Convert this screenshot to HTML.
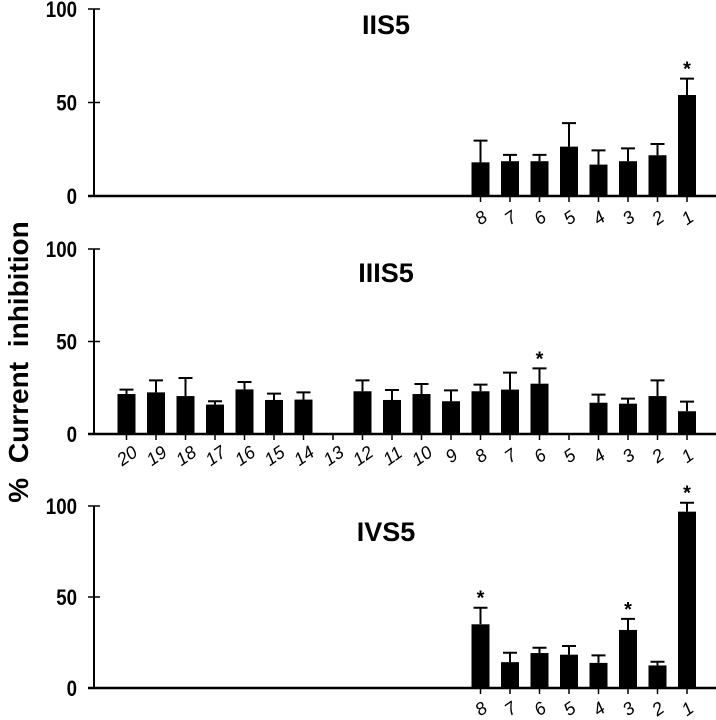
<!DOCTYPE html>
<html><head><meta charset="utf-8"><style>
html,body{margin:0;padding:0;background:#fff;}
svg{display:block;font-family:"Liberation Sans",Arial,sans-serif;}
</style></head><body>
<svg id="chart" width="716" height="720" viewBox="0 0 716 720" xmlns="http://www.w3.org/2000/svg">
<text transform="translate(28,362) rotate(-90)" text-anchor="middle" font-size="28" font-weight="bold" word-spacing="7">% Current inhibition</text>
</svg>
<script>
const panelNames = ["IIS5","IIIS5","IVS5"];
const cats1 = [8,7,6,5,4,3,2,1];
const vals1 = [18,18.6,18.6,26.4,16.8,18.6,21.8,54];
const errs1 = [29.6,22,22,39,24.4,25.5,27.8,62.8];
const stars1 = [1];
const cats2 = [20,19,18,17,16,15,14,12,11,10,9,8,7,6,4,3,2,1];
const vals2 = [21.6,22.5,20.5,15.9,24.1,18.4,18.6,23.1,18.4,21.6,17.7,23.1,24,27.2,16.9,16.4,20.5,12.3];
const errs2 = [24,29,30.3,17.7,28.1,21.8,22.5,29,23.8,27,23.6,26.7,33.2,35.5,21.3,19.1,29,17.5];
const stars2 = [6];
const cats3 = [8,7,6,5,4,3,2,1];
const vals3 = [35,14.2,19.2,18.3,13.8,31.9,12.4,96.9];
const errs3 = [44.1,19.4,22.1,23.1,17.9,38,14.4,101.8];
const stars3 = [8,3,1];
const tickLabels1 = [1,2,3,4,5,6,7,8];
const tickLabels2 = [1,2,3,4,5,6,7,8,9,10,11,12,13,14,15,16,17,18,19,20];
const yTicks = [0,50,100];

const svg = document.getElementById('chart');
const NS = "http://www.w3.org/2000/svg";
function mk(tag, attrs){const e=document.createElementNS(NS,tag);for(const k in attrs)e.setAttribute(k,attrs[k]);svg.appendChild(e);return e;}
const axisX = 94;
function xPos(c){return 687 - (c-1)*29.5;}
const panels = [
 {name:panelNames[0], y0:196, y100:9, cats:cats1, vals:vals1, errs:errs1, stars:stars1, ticks:tickLabels1, labelY:224, titleY:34},
 {name:panelNames[1], y0:434, y100:249, cats:cats2, vals:vals2, errs:errs2, stars:stars2, ticks:tickLabels2, labelY:462, titleY:282},
 {name:panelNames[2], y0:688, y100:506, cats:cats3, vals:vals3, errs:errs3, stars:stars3, ticks:tickLabels1, labelY:715, titleY:541}
];
panels.forEach((p,pi)=>{
  const yS = v => p.y0 - v*(p.y0-p.y100)/100;
  let t = mk('text',{x:386,y:p.titleY,'text-anchor':'middle','font-size':27,'font-weight':'bold'});
  t.textContent = p.name;
  
  
  let ya = mk('line',{x1:axisX,y1:p.y100,x2:axisX,y2:p.y0,stroke:'#000','stroke-width':2});
  
  
  let xa = mk('line',{x1:axisX-6,y1:p.y0,x2:716,y2:p.y0,stroke:'#000','stroke-width':2.5});
  
  
  yTicks.forEach(v=>{
    const y = yS(v);
    let tk = mk('line',{x1:axisX-6,y1:y,x2:axisX+6,y2:y,stroke:'#000','stroke-width':1.5});
    
    
    let tl = mk('text',{x:77,y:y+8,'text-anchor':'end','font-size':22,'font-weight':'bold',transform:'translate('+77+' 0) scale(0.85 1) translate('+(-77)+' 0)'});
    tl.textContent = v;
    
    
  });
  p.ticks.forEach(c=>{
    const x = xPos(c);
    let tk = mk('line',{x1:x,y1:p.y0,x2:x,y2:p.y0+6,stroke:'#000','stroke-width':1.5});
    
    
    let tl = mk('text',{x:x,y:p.labelY,'text-anchor':'middle','font-size':18,'font-style':'italic',transform:'rotate(-35 '+x+' '+(p.labelY-7)+')'});
    tl.textContent = c;
    
    
  });
  p.cats.forEach((c,i)=>{
    const x = xPos(c), top = yS(p.vals[i]), et = yS(p.errs[i]);
    let b = mk('rect',{x:x-9,y:top,width:18,height:p.y0-top,fill:'#000'});
    
    
    let e = mk('path',{d:'M'+x+' '+top+'V'+et+'M'+(x-7)+' '+et+'H'+(x+7),stroke:'#000','stroke-width':2,fill:'none'});
    
    
    if(p.stars.indexOf(c)>=0){
      let s = mk('text',{x:x,y:et-3,'text-anchor':'middle','font-size':20,'font-weight':'bold'});
      s.textContent = '*';
      
      
    }
  });
});
</script>
</body></html>
